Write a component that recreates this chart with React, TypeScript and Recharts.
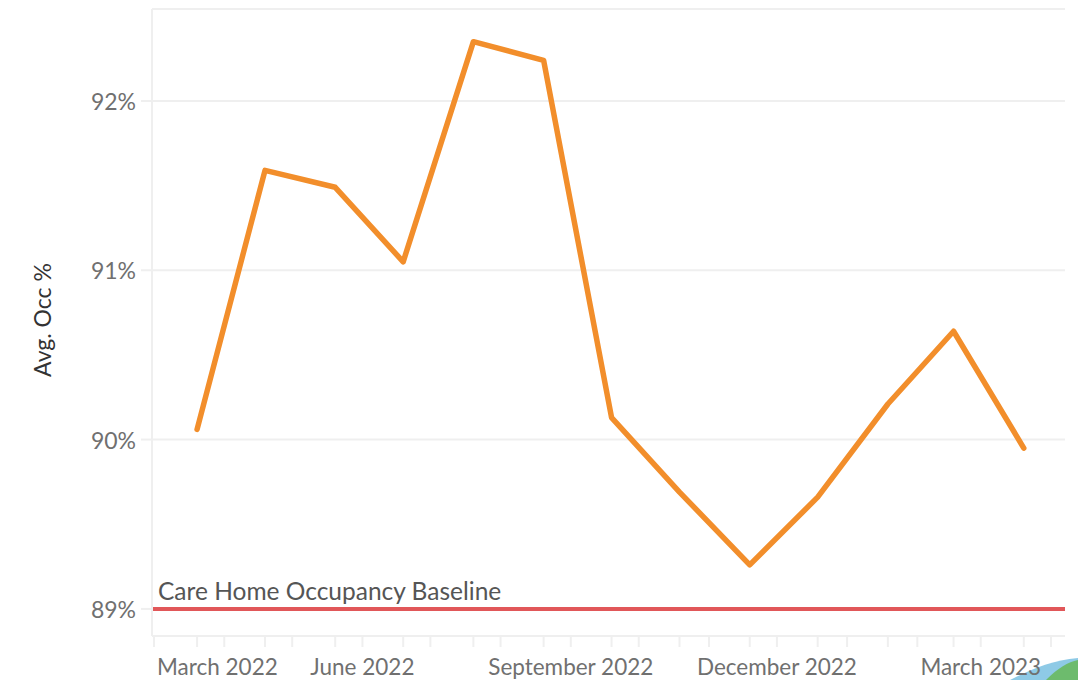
import React from 'react';
import {
  LineChart,
  Line,
  XAxis,
  YAxis,
  CartesianGrid,
  ReferenceLine,
} from 'recharts';

// Monthly average occupancy (%) — each point sits around the middle of its month
const pointDates = [
  '2022-03-20', '2022-04-19', '2022-05-20', '2022-06-19', '2022-07-20', '2022-08-20',
  '2022-09-19', '2022-10-19', '2022-11-19', '2022-12-19', '2023-01-19', '2023-02-17',
  '2023-03-20',
];
const occupancy = [
  90.06, 91.59, 91.49, 91.05, 92.35, 92.24, 90.13, 89.69, 89.26, 89.66, 90.21, 90.64, 89.95,
];

// month starts drawn as ticks on the date axis
const monthStarts = [
  '2022-03-01', '2022-04-01', '2022-05-01', '2022-06-01', '2022-07-01', '2022-08-01',
  '2022-09-01', '2022-10-01', '2022-11-01', '2022-12-01', '2023-01-01', '2023-02-01',
  '2023-03-01', '2023-04-01',
];
const labelledMonths = ['2022-03-01', '2022-06-01', '2022-09-01', '2022-12-01', '2023-03-01'];
const monthNames = [
  'January', 'February', 'March', 'April', 'May', 'June',
  'July', 'August', 'September', 'October', 'November', 'December',
];

const yTicks = [89, 90, 91, 92];
const baseline = 89;
const baselineLabel = 'Care Home Occupancy Baseline';
const yLabel = 'Avg. Occ %';

const DAY = 24 * 3600 * 1000;
const ts = (d: string) => Date.parse(d + 'T00:00:00Z');

const data = pointDates.map((d, i) => ({ t: ts(d), value: occupancy[i] }));
const xTicks = [...monthStarts.map(ts), ...pointDates.map(ts)].sort((a, b) => a - b);
const labelled = new Set(labelledMonths.map(ts));
const xDomain = [ts('2022-03-01') - 0.9 * DAY, ts('2023-04-01') + 6.2 * DAY];

const FONT = 'Lato, "Open Sans", sans-serif';
const GRID = '#efefef';

function MonthTick({ x, y, payload }: any) {
  if (!labelled.has(payload.value)) return null;
  const d = new Date(payload.value);
  const text = `${monthNames[d.getUTCMonth()]} ${d.getUTCFullYear()}`;
  const first = payload.value === ts(labelledMonths[0]);
  return (
    <text
      x={first ? x + 3 : x}
      y={y + 26}
      textAnchor={first ? 'start' : 'middle'}
      fill="#707070"
      fontSize={22.5}
      fontFamily={FONT}
    >
      {text}
    </text>
  );
}

export default function App() {
  return (
    <div style={{ position: 'absolute', left: 0, top: 0, width: 1078, height: 680, background: '#fff' }}>
      {/* clipped corner decoration, sits behind the chart */}
      <svg
        width={76}
        height={24}
        style={{ position: 'absolute', left: 1002, top: 656 }}
      >
        <path d="M8,24 C28,14 50,4 76,2 L76,24 Z" fill="#8ecae6" />
        <path d="M44,24 C56,12 66,6 76,4 L76,24 Z" fill="#6dbb6d" />
      </svg>
      <LineChart
        width={1078}
        height={680}
        data={data}
        margin={{ top: 9, right: 13, left: 0, bottom: 0 }}
      >
        <CartesianGrid vertical={false} stroke={GRID} strokeWidth={2} />
        <XAxis
          dataKey="t"
          type="number"
          domain={xDomain}
          ticks={xTicks}
          interval={0}
          allowDataOverflow
          axisLine={{ stroke: GRID, strokeWidth: 2 }}
          tickLine={{ stroke: GRID, strokeWidth: 2 }}
          tickSize={11}
          height={44}
          tick={<MonthTick />}
        />
        <YAxis
          type="number"
          domain={[88.84, 92.543]}
          ticks={yTicks}
          allowDataOverflow
          width={152}
          axisLine={{ stroke: GRID, strokeWidth: 2 }}
          tickLine={{ stroke: GRID, strokeWidth: 2 }}
          tickSize={11}
          tickMargin={5}
          tickFormatter={(v: number) => `${v}%`}
          tick={{ fill: '#707070', fontSize: 23, fontFamily: FONT, dy: 1 }}
          label={{
            content: () => (
              <text
                x={0}
                y={0}
                transform="translate(51, 320) rotate(-90)"
                textAnchor="middle"
                fill="#333"
                fontSize={23}
                fontFamily={FONT}
              >
                {yLabel}
              </text>
            ),
          }}
        />
        <ReferenceLine
          y={baseline}
          stroke="#e15759"
          strokeWidth={4}
          label={{
            content: (props: any) => (
              <text
                x={props.viewBox.x + 6}
                y={props.viewBox.y - 9}
                fill="#555"
                fontSize={24.5}
                fontFamily={FONT}
              >
                {baselineLabel}
              </text>
            ),
          }}
        />
        <Line
          dataKey="value"
          stroke="#f28e2b"
          strokeWidth={5.5}
          strokeLinejoin="round"
          strokeLinecap="round"
          dot={false}
          activeDot={false}
          isAnimationActive={false}
        />
      </LineChart>
    </div>
  );
}
